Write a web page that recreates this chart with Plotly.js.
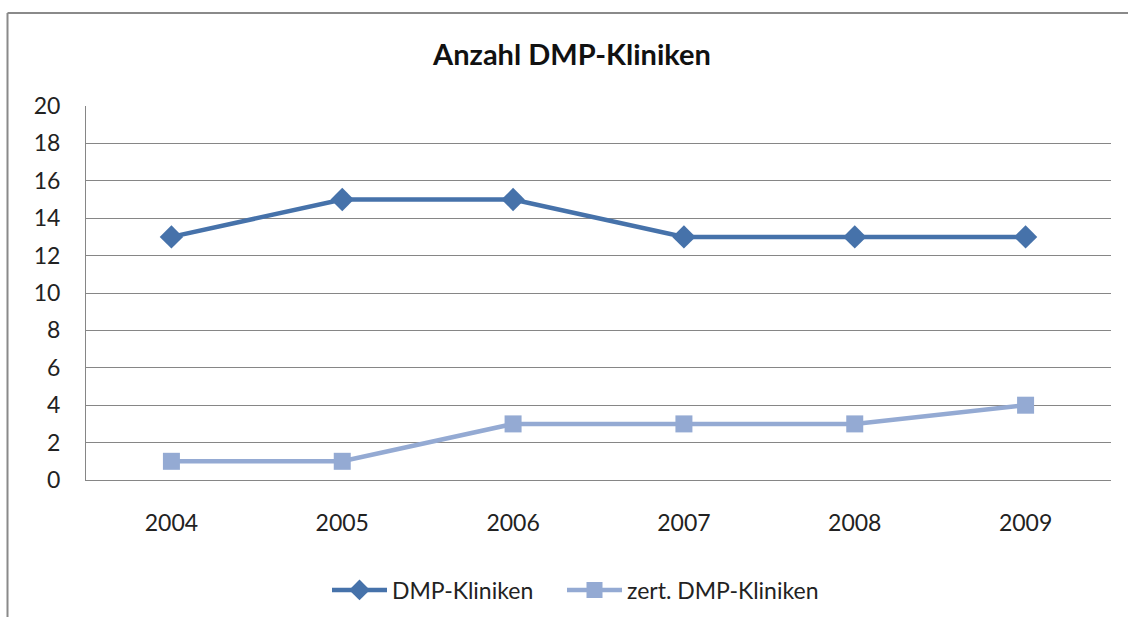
<!DOCTYPE html>
<html>
<head>
<meta charset="utf-8">
<script src="https://cdn.plot.ly/plotly-3.0.1.min.js"></script>
<style>html,body{margin:0;padding:0;background:#fff;}#chart{width:1128px;height:617px;}</style>
</head>
<body>
<div id="chart"></div>
<script>
const years = ['2004', '2005', '2006', '2007', '2008', '2009'];
const dmpKliniken = [13, 15, 15, 13, 13, 13];
const zertDmpKliniken = [1, 1, 3, 3, 3, 4];
const seriesNames = ['DMP-Kliniken', 'zert. DMP-Kliniken'];
const titleText = 'Anzahl DMP-Kliniken';

const FONT = 'Lato, "Open Sans", sans-serif';
const traces = [
  {
    x: years, y: dmpKliniken, name: seriesNames[0], type: 'scatter', mode: 'lines+markers',
    line: {color: '#4672AA', width: 4.5},
    marker: {symbol: 'diamond', size: 18, color: '#4672AA'},
    legend: 'legend'
  },
  {
    x: years, y: zertDmpKliniken, name: seriesNames[1], type: 'scatter', mode: 'lines+markers',
    line: {color: '#94AAD3', width: 4.5},
    marker: {symbol: 'square', size: 17, color: '#94AAD3'},
    legend: 'legend2'
  }
];

// frame lines (page px -> paper coords)
const L = 86, R = 17, T = 106, B = 137, W = 1128, H = 617;
const pw = W - L - R, ph = H - T - B;
const px = v => (v - L) / pw;
const py = v => (H - B - v) / ph;

const legendBase = {orientation: 'h', xanchor: 'left', yref: 'container', y: 1 - 590 / H, yanchor: 'middle',
                    font: {family: FONT, size: 23, color: '#222'}, itemwidth: 55};

const layout = {
  width: W, height: H,
  margin: {l: L, r: R, t: T, b: B, autoexpand: false},
  paper_bgcolor: '#fff', plot_bgcolor: '#fff',
  font: {family: FONT, size: 23, color: '#222'},
  title: {text: '<b>' + titleText + '</b>', x: px(572), xref: 'paper', xanchor: 'center',
          y: 1 - 55 / H, yanchor: 'middle',
          font: {family: FONT, size: 29, color: '#111'}},
  xaxis: {
    type: 'category', range: [-0.5, 5.5], showgrid: false, zeroline: false,
    showline: true, linecolor: '#868686', linewidth: 1, ticks: '', ticklabelstandoff: 22,
    tickfont: {family: FONT, size: 23, color: '#222'}, fixedrange: true
  },
  yaxis: {
    range: [0, 20], dtick: 2, tick0: 0, showgrid: true, gridcolor: '#868686', gridwidth: 1,
    zeroline: false, showline: true, linecolor: '#868686', linewidth: 1, ticks: '',
    ticklabelstandoff: 20, tickfont: {family: FONT, size: 23, color: '#222'}, fixedrange: true
  },
  showlegend: true,
  legend: Object.assign({}, legendBase, {x: px(327)}),
  legend2: Object.assign({}, legendBase, {x: px(562)}),
  shapes: [
    {type: 'line', xref: 'paper', yref: 'paper', x0: px(7.5), x1: px(1135), y0: py(13), y1: py(13),
     line: {color: '#8a8a8a', width: 2}},
    {type: 'line', xref: 'paper', yref: 'paper', x0: px(7.5), x1: px(7.5), y0: py(13), y1: py(625),
     line: {color: '#8a8a8a', width: 2}}
  ]
};

Plotly.newPlot('chart', traces, layout, {displayModeBar: false, staticPlot: true});
</script>
</body>
</html>
